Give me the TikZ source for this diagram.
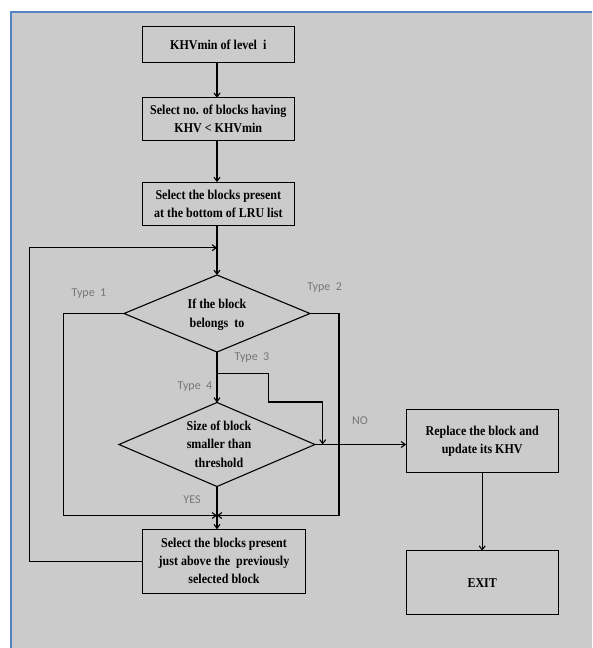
\documentclass[tikz,border=0pt]{standalone}
\usepackage{fontspec}
\setmainfont{Liberation Serif}
\newfontfamily\boxfont[FakeStretch=0.89]{Liberation Serif}
\newfontfamily\labfont{Carlito}
\usetikzlibrary{shapes.geometric,arrows.meta,calc}
\definecolor{bggray}{HTML}{CBCBCB}
\definecolor{frameblue}{HTML}{5482C2}
\definecolor{labgray}{HTML}{767676}
\begin{document}
\begin{tikzpicture}[x=1pt,y=-1pt,
  every node/.style={outer sep=0pt},
  box/.style={draw=black,line width=1.1pt,inner sep=0pt,align=center,
    font=\boxfont\bfseries\fontsize{13.5}{18}\selectfont},
  dia/.style={draw=black,line width=1.1pt,diamond,inner sep=0pt},
  diatext/.style={align=center,inner sep=0pt,font=\boxfont\bfseries\fontsize{13.5}{18.5}\selectfont},
  lab/.style={text=labgray,inner sep=0pt,font=\labfont\fontsize{12}{13}\selectfont},
  conn/.style={draw=black,line width=1.1pt},
  arr/.style={conn,-{Straight Barb[length=4pt,width=6pt]}}
]
\useasboundingbox (0,0) rectangle (592,648);
\fill[white] (0,0) rectangle (592,648);
\fill[bggray] (10,11) rectangle (592,648);
\draw[frameblue,line width=2pt] (11,648) -- (11,12) -- (592,12);

% boxes
\node[box,minimum width=152pt,minimum height=36pt] (b1) at (218.3,44.7) {KHVmin of level\ \ i};
\node[box,minimum width=152pt,minimum height=42.3pt] (b2) at (218.3,119) {Select no. of blocks having\\KHV {\textless} KHVmin};
\node[box,minimum width=152pt,minimum height=43.7pt] (b3) at (218.3,204) {Select the blocks present\\at the bottom of LRU list};
\node[box,minimum width=163.4pt,minimum height=64pt] (b4) at (224,561.3) {Select the blocks present\\just above the\ \ previously\\selected block};
\node[box,minimum width=152.3pt,minimum height=63.4pt] (rep) at (482.2,441) {Replace the block and\\update its KHV};
\node[box,minimum width=152.3pt,minimum height=64pt] (exit) at (482.2,582.7) {EXIT};

% diamonds
\node[dia,minimum width=186pt,minimum height=77pt] (d1) at (217,313.5) {};
\node[diatext] (d1t) at (217,314.5) {If the block\\belongs\ \ to};
\node[dia,minimum width=196pt,minimum height=84pt] (d2) at (217,444.5) {};
\node[diatext] (d2t) at (219,444) {Size of block\\smaller than\\threshold};

% coordinates
\coordinate (loopL) at (29.4,561.3);
\coordinate (loopT) at (29.4,247.7);
\coordinate (join) at (217,247.7);
\coordinate (t1) at (63.4,313.5);
\coordinate (t1b) at (63.4,515.5);
\coordinate (t2) at (339,313.5);
\coordinate (t2b) at (339,515.5);
\coordinate (merge) at (217,515.5);
\coordinate (t3a) at (217,373.7);
\coordinate (t3b) at (268.7,373.7);
\coordinate (t3c) at (268.7,402);
\coordinate (t3d) at (322.7,402);
\coordinate (t3e) at (322.7,444.5);

% connectors
\draw[arr] (b1.south -| d1.north) -- (b2.north -| d1.north);
\draw[arr] (b2.south -| d1.north) -- (b3.north -| d1.north);
\draw[arr] (b3.south -| d1.north) -- (d1.north);
\draw[arr] (b4.west |- loopL) -- (loopL) -- (loopT) -- (join);
\draw[arr] (d1.west) -- (t1) -- (t1b) -- (merge);
\draw[arr] (d1.east) -- (t2) -- (t2b) -- (merge);
\draw[arr] (d1.south) -- (d2.north);
\draw[arr] (t3a) -- (t3b) -- (t3c) -- (t3d) -- (t3e);
\draw[arr] (d2.east) -- (rep.west |- d2.east);
\draw[arr] (d2.south) -- (d2.south |- b4.north);
\draw[arr] (rep.south) -- (exit.north);

% labels
\node[lab] (l1) at (89,294) {Type\ \ 1};
\node[lab] (l2) at (324.6,288) {Type\ \ 2};
\node[lab] (l3) at (252,358) {Type\ \ 3};
\node[lab] (l4) at (195,387) {Type\ \ 4};
\node[lab] (lno) at (360,421) {NO};
\node[lab] (lyes) at (192,500) {YES};
\end{tikzpicture}
\end{document}
